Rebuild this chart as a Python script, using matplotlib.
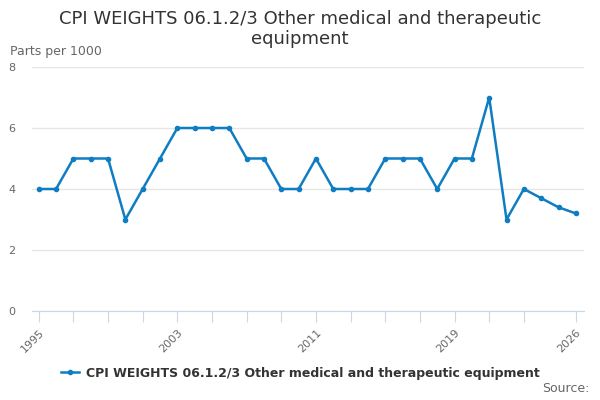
import matplotlib
matplotlib.use("Agg")
import matplotlib.pyplot as plt
import numpy as np

# CPI weights, parts per 1000
years = list(range(1995, 2027))
weights = [4, 4, 5, 5, 5, 3, 4, 5, 6, 6, 6, 6, 5, 5, 4, 4,
           5, 4, 4, 4, 5, 5, 5, 4, 5, 5, 7, 3, 4, 3.7, 3.4, 3.2]
tick_years = list(range(1995, 2024, 2)) + [2026]
label_years = [1995, 2003, 2011, 2019, 2026]
series_name = "CPI WEIGHTS 06.1.2/3 Other medical and therapeutic equipment"

blue = '#0f7dc2'
grey = '#666666'

fig = plt.figure(figsize=(6, 4), dpi=100)
ax = fig.add_axes([0.053, 0.2225, 0.92, 0.61])

ax.plot(years, weights, color=blue, linewidth=1.8, marker='o', markersize=3,
        label=series_name)

ax.set_xlim(1994.6, 2026.46)
ax.set_ylim(0, 8)
ax.set_yticks([0, 2, 4, 6, 8])
ax.set_xticks(tick_years)
ax.set_xticklabels([str(y) if y in label_years else '' for y in tick_years],
                   rotation=45, ha='right', rotation_mode='anchor')

ax.grid(axis='y', color='#e6e6e6', linewidth=1)
ax.set_axisbelow(True)
for s in ['top', 'right', 'left']:
    ax.spines[s].set_visible(False)
ax.spines['bottom'].set_color('#ccd6eb')
ax.tick_params(axis='x', colors='#ccd6eb', length=8, labelcolor=grey, labelsize=8)
ax.tick_params(axis='y', length=0, labelcolor=grey, labelsize=8, pad=12)

fig.text(0.5, 0.975, "CPI WEIGHTS 06.1.2/3 Other medical and therapeutic\nequipment",
         ha='center', va='top', fontsize=13, color='#333333', linespacing=1.15)
fig.text(10 / 600, 1 - 52 / 400, "Parts per 1000", ha='left', va='center',
         fontsize=9, color=grey)

leg = fig.legend(loc='center', bbox_to_anchor=(0.5, 1 - 373 / 400), frameon=False,
                 prop={'weight': 'bold', 'size': 9}, handlelength=1.5,
                 handletextpad=0.5)
for t in leg.get_texts():
    t.set_color('#333333')

fig.text(0.983, 1 - 389 / 400, "Source:", ha='right', va='center',
         fontsize=9, color=grey)

fig.savefig("out.png", dpi=100)
